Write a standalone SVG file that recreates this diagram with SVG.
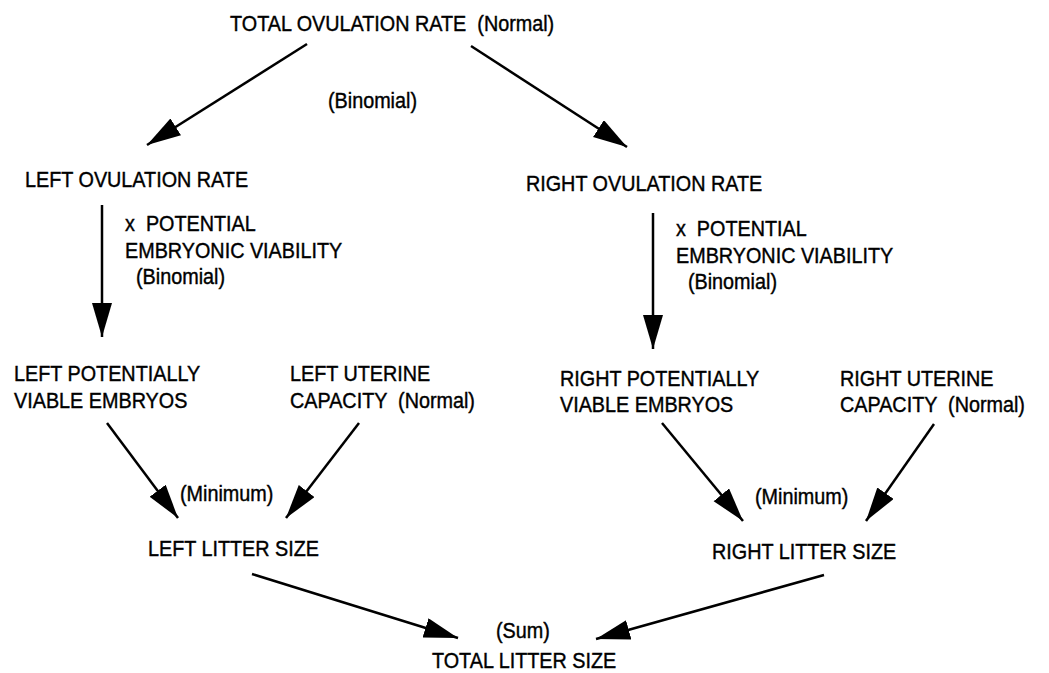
<svg xmlns="http://www.w3.org/2000/svg" width="1049" height="673" viewBox="0 0 1049 673">
<style>
text{font-family:"Liberation Sans",Arial,sans-serif;font-size:22px;fill:#000;stroke:#000;stroke-width:0.4}
.c line{stroke:#000;stroke-width:2.5;marker-end:url(#ah)}
</style>
<defs>
<marker id="ah" markerUnits="userSpaceOnUse" markerWidth="36" markerHeight="22" refX="34" refY="10" orient="auto" viewBox="0 0 36 22">
<path d="M0,0 L34,10 L0,20 z" fill="#000"/>
</marker>
</defs>
<rect width="1049" height="673" fill="#fff"/>
<g id="total-ovulation" transform="scale(0.9 1)"><text x="255.6" y="31" xml:space="preserve">TOTAL OVULATION RATE  (Normal)</text></g>
<g id="binomial-top" transform="scale(0.9 1)"><text x="364.4" y="108">(Binomial)</text></g>
<g id="left-ovulation" transform="scale(0.9 1)"><text x="27.8" y="187">LEFT OVULATION RATE</text></g>
<g id="right-ovulation" transform="scale(0.9 1)"><text x="584.4" y="191">RIGHT OVULATION RATE</text></g>
<g id="left-viability" transform="scale(0.9 1)"><text x="138.9" y="231" xml:space="preserve">x  POTENTIAL</text><text x="138.9" y="258">EMBRYONIC VIABILITY</text><text x="151.1" y="284">(Binomial)</text></g>
<g id="right-viability" transform="scale(0.9 1)"><text x="751.1" y="236" xml:space="preserve">x  POTENTIAL</text><text x="751.1" y="263">EMBRYONIC VIABILITY</text><text x="764.4" y="289">(Binomial)</text></g>
<g id="left-embryos" transform="scale(0.9 1)"><text x="15.6" y="381">LEFT POTENTIALLY</text><text x="15.6" y="408">VIABLE EMBRYOS</text></g>
<g id="left-uterine" transform="scale(0.9 1)"><text x="322.2" y="381">LEFT UTERINE</text><text x="322.2" y="408" xml:space="preserve">CAPACITY  (Normal)</text></g>
<g id="right-embryos" transform="scale(0.9 1)"><text x="622.2" y="386">RIGHT POTENTIALLY</text><text x="622.2" y="412">VIABLE EMBRYOS</text></g>
<g id="right-uterine" transform="scale(0.9 1)"><text x="933.3" y="386">RIGHT UTERINE</text><text x="933.3" y="412" xml:space="preserve">CAPACITY  (Normal)</text></g>
<g id="left-min" transform="scale(0.9 1)"><text x="200" y="501">(Minimum)</text></g>
<g id="left-litter" transform="scale(0.9 1)"><text x="164.4" y="556">LEFT LITTER SIZE</text></g>
<g id="right-min" transform="scale(0.9 1)"><text x="838.9" y="504">(Minimum)</text></g>
<g id="right-litter" transform="scale(0.9 1)"><text x="791.1" y="559">RIGHT LITTER SIZE</text></g>
<g id="sum" transform="scale(0.9 1)"><text x="551.1" y="638">(Sum)</text></g>
<g id="total-litter" transform="scale(0.9 1)"><text x="480" y="668">TOTAL LITTER SIZE</text></g>
<g id="connectors" class="c">
<line x1="307" y1="44" x2="147" y2="145"/>
<line x1="471" y1="46" x2="627" y2="147"/>
<line x1="102" y1="205" x2="102" y2="337"/>
<line x1="653" y1="213" x2="653" y2="349"/>
<line x1="107" y1="423" x2="178" y2="518"/>
<line x1="359" y1="423" x2="286" y2="518"/>
<line x1="662" y1="423" x2="743" y2="521"/>
<line x1="934" y1="424" x2="866" y2="521"/>
<line x1="252" y1="574" x2="458" y2="638"/>
<line x1="824" y1="575" x2="596" y2="639"/>
</g>
</svg>
